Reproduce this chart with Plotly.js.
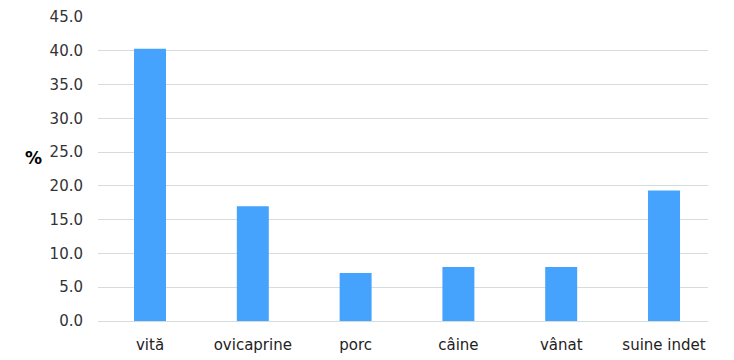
<!DOCTYPE html>
<html>
<head>
<meta charset="utf-8">
<script src="https://cdn.plot.ly/plotly-3.0.1.min.js"></script>
<style>body{margin:0;padding:0;background:#fff}#chart{width:734px;height:360px}</style>
</head>
<body>
<div id="chart"></div>
<script>
const categories = ["vită", "ovicaprine", "porc", "câine", "vânat", "suine indet"];
const values = [40.3, 17.0, 7.1, 8.0, 8.0, 19.3];
const yTitle = "%";

const trace = {
  type: "bar",
  x: categories,
  y: values,
  marker: {color: "#45a3fd"},
  hoverinfo: "skip"
};

const layout = {
  width: 734, height: 360,
  margin: {l: 98, r: 26, t: 17, b: 39},
  paper_bgcolor: "#fff", plot_bgcolor: "#fff",
  bargap: 0.689,
  font: {family: "DejaVu Sans", size: 15, color: "#333"},
  xaxis: {
    type: "category",
    range: [-0.506, 5.428],
    showgrid: false,
    showline: true, linecolor: "#d5dcdc", linewidth: 1,
    ticks: "", ticklabelstandoff: 10,
    tickfont: {family: "DejaVu Sans", size: 15, color: "#222"}
  },
  yaxis: {
    range: [0, 45], dtick: 5, tick0: 0, tickformat: ".1f",
    showgrid: true, gridcolor: "#d5dcdc", gridwidth: 1,
    zeroline: false, showline: false, ticks: "",
    ticklabelstandoff: 14,
    tickfont: {family: "DejaVu Sans", size: 15, color: "#333"}
  },
  showlegend: false,
  annotations: [{
    text: yTitle, xref: "paper", yref: "paper", x: 0, y: 0.535,
    xshift: -65, xanchor: "center", yanchor: "middle", showarrow: false,
    font: {family: "DejaVu Sans", size: 17, color: "#000", weight: "bold"}
  }]
};

Plotly.newPlot("chart", [trace], layout, {displayModeBar: false, staticPlot: true});
</script>
</body>
</html>
